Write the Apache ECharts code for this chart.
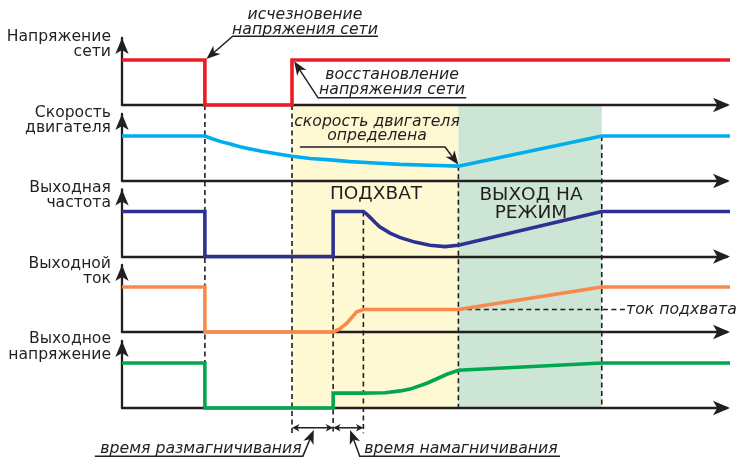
<!DOCTYPE html>
<html><head><meta charset="utf-8">
<script src="https://cdn.jsdelivr.net/npm/echarts@6/dist/echarts.min.js"></script>
<style>html,body{margin:0;padding:0;background:#fff}#c{width:740px;height:458px}</style>
</head><body><div id="c"></div>
<script>
// ---------------- data ----------------
const signalNames = ['Напряжение\nсети', 'Скорость\nдвигателя', 'Выходная\nчастота', 'Выходной\nток', 'Выходное\nнапряжение'];
// loss of mains, mains restored, magnetizing start, magnetizing end, speed found, ramp finished
const eventTimes = [13.7, 28.1, 34.9, 39.9, 55.6, 79.3];
const mainsVoltage = [[0,1],[13.7,1],[13.7,0],[28.1,0],[28.1,1],[101.3,1]];
const motorSpeed = [[0,1],[13.7,1],[14.9,0.94],[16.2,0.88],[17.9,0.82],[19.5,0.76],[21.2,0.71],[23.1,0.66],[25.3,0.61],[28.1,0.55],[31.1,0.50],[34.4,0.47],[37.7,0.43],[41.8,0.40],[46.0,0.37],[50.9,0.35],[55.6,0.33],[79.3,1],[101.3,1]];
const outputFrequency = [[0,1],[13.7,1],[13.7,0],[34.9,0],[34.9,1],[39.9,1],[40.4,0.95],[41.0,0.87],[41.8,0.76],[42.6,0.66],[44.3,0.52],[46.0,0.42],[48.4,0.32],[50.9,0.25],[53.4,0.22],[55.6,0.25],[79.3,1],[101.3,1]];
const outputCurrent = [[0,1],[13.7,1],[13.7,0],[34.9,0],[36.0,0.07],[37.2,0.2],[38.8,0.45],[39.9,0.5],[55.6,0.5],[79.3,1],[101.3,1]];
const outputVoltage = [[0,1],[13.7,1],[13.7,0],[34.9,0],[34.9,0.33],[39.3,0.33],[43.5,0.34],[46.0,0.38],[47.6,0.42],[50.4,0.55],[53.7,0.75],[55.6,0.84],[79.3,1],[101.3,1]];
const captureCurrentLevel = 0.5;
const signals = [mainsVoltage, motorSpeed, outputFrequency, outputCurrent, outputVoltage];
const signalColors = ['#ED1C24', '#00AEEF', '#2E3192', '#F7894A', '#00A651'];

// ---------------- layout ----------------
const W = 740, H = 458;
const AX_LEFT = 122, AX_W = 605, T_MAX = 100;
const BASE = [105, 181, 256.5, 332, 408];
const UNIT = 45;          // px per signal level unit
const PANEL_H = 67;
const INK = '#231F20';
const lv = (k, l) => (BASE[4] - BASE[k]) / UNIT + l;   // overlay y value for panel k at level l

const [tLoss, tRest, tM0, tM1, tFound, tDone] = eventTimes;
const shaded = [
  { from: [tRest, lv(0, 0)], to: [tFound, lv(4, 0)], color: '#FFF9D3' },
  { from: [tFound, lv(0, 0)], to: [tDone, lv(4, 0)], color: '#CCE5D4' }
];
const dashed = [
  [[tLoss, lv(0, 0)], [tLoss, lv(4, 1)]],
  [[tRest, lv(0, 0)], [tRest, lv(4, -0.56)]],
  [[tM0, lv(2, 0)], [tM0, lv(4, -0.56)]],
  [[tM1, lv(2, 1)], [tM1, lv(4, -0.56)]],
  [[tFound, lv(1, 0.34)], [tFound, lv(4, 0)]],
  [[tDone, lv(1, 1)], [tDone, lv(4, 0)]],
  [[tFound, lv(3, captureCurrentLevel)], [83.3, lv(3, captureCurrentLevel)]]
];
const spans = [[tRest, tM0], [tM0, tM1]];
const spanLevel = lv(4, -0.44);
const leaders = [
  [[42.3, lv(0, 1.53)], [18.3, lv(0, 1.53)], [tLoss + 0.25, lv(0, 1.02)]],
  [[56.9, lv(0, 0.16)], [32.4, lv(0, 0.16)], [tRest + 0.35, lv(0, 0.97)]],
  [[29.4, lv(1, 0.756)], [53.4, lv(1, 0.756)], [tFound, lv(1, 0.36)]],
  [[-4.5, lv(4, -1.07)], [29.9, lv(4, -1.07)], [31.7, lv(4, -0.49)]],
  [[72.4, lv(4, -1.07)], [39.3, lv(4, -1.07)], [37.7, lv(4, -0.49)]]
];

function arrowHead(tip, from, L, Wd) {
  const dx = tip[0] - from[0], dy = tip[1] - from[1];
  const len = Math.hypot(dx, dy) || 1;
  const ux = dx / len, uy = dy / len, nx = -uy, ny = ux;
  const bx = tip[0] - ux * L, by = tip[1] - uy * L;
  return [[tip[0], tip[1]], [bx + nx * Wd / 2, by + ny * Wd / 2],
          [tip[0] - ux * L * 0.72, tip[1] - uy * L * 0.72], [bx - nx * Wd / 2, by - ny * Wd / 2]];
}
function shorten(tip, from, d) {
  const dx = tip[0] - from[0], dy = tip[1] - from[1];
  const len = Math.hypot(dx, dy) || 1;
  return [tip[0] - dx / len * d, tip[1] - dy / len * d];
}

const grids = [], xAxes = [], yAxes = [], series = [];
for (let k = 0; k < 5; k++) {
  grids.push({ left: AX_LEFT, width: AX_W, top: BASE[k] - PANEL_H, height: PANEL_H });
  xAxes.push({ gridIndex: k, type: 'value', min: 0, max: T_MAX, z: 3,
    axisLine: { show: true, lineStyle: { color: INK, width: 2.3 }, symbol: ['none', 'arrow'], symbolSize: [11, 17], symbolOffset: [0, 3] },
    axisTick: { show: false }, axisLabel: { show: false }, splitLine: { show: false } });
  yAxes.push({ gridIndex: k, type: 'value', min: 0, max: PANEL_H / UNIT, z: 3,
    axisLine: { show: true, lineStyle: { color: INK, width: 2.3 }, symbol: ['none', 'arrow'], symbolSize: [10, 16] },
    axisTick: { show: false }, axisLabel: { show: false }, splitLine: { show: false } });
  series.push({ type: 'line', xAxisIndex: k, yAxisIndex: k, data: signals[k], name: signalNames[k],
    symbol: 'none', clip: false, z: 6, animation: false,
    lineStyle: { color: signalColors[k], width: 3.6, join: 'miter', cap: 'butt' } });
}
// overlay grid for annotations
grids.push({ left: AX_LEFT, width: AX_W, top: 0, height: H });
xAxes.push({ gridIndex: 5, type: 'value', min: 0, max: T_MAX, show: false });
yAxes.push({ gridIndex: 5, type: 'value', min: (BASE[4] - H) / UNIT, max: BASE[4] / UNIT, show: false });

series.push({ type: 'custom', xAxisIndex: 5, yAxisIndex: 5, z: 1, animation: false, silent: true,
  data: shaded.map((s, i) => [i, 0]),
  renderItem: (params, api) => {
    const s = shaded[params.dataIndex];
    const a = api.coord(s.from), b = api.coord(s.to);
    return { type: 'rect', shape: { x: a[0], y: a[1], width: b[0] - a[0], height: b[1] - a[1] }, style: { fill: s.color } };
  } });
series.push({ type: 'custom', xAxisIndex: 5, yAxisIndex: 5, z: 4, animation: false, silent: true,
  data: dashed.map((s, i) => [i, 0]),
  renderItem: (params, api) => {
    const d = dashed[params.dataIndex];
    const a = api.coord(d[0]), b = api.coord(d[1]);
    return { type: 'line', shape: { x1: a[0], y1: a[1], x2: b[0], y2: b[1] },
      style: { stroke: INK, lineWidth: 1.6, lineDash: [5, 3.5] } };
  } });
series.push({ type: 'custom', xAxisIndex: 5, yAxisIndex: 5, z: 5, animation: false, silent: true,
  data: spans.map((s, i) => [i, 0]),
  renderItem: (params, api) => {
    const s = spans[params.dataIndex];
    const a = api.coord([s[0], spanLevel]), b = api.coord([s[1], spanLevel]);
    return { type: 'group', children: [
      { type: 'line', shape: { x1: a[0] + 2, y1: a[1], x2: b[0] - 2, y2: b[1] }, style: { stroke: INK, lineWidth: 1.5 } },
      { type: 'polygon', shape: { points: arrowHead(a, b, 7.5, 7.5) }, style: { fill: INK } },
      { type: 'polygon', shape: { points: arrowHead(b, a, 7.5, 7.5) }, style: { fill: INK } }
    ] };
  } });
series.push({ type: 'custom', xAxisIndex: 5, yAxisIndex: 5, z: 5, animation: false, silent: true,
  data: leaders.map((s, i) => [i, 0]),
  renderItem: (params, api) => {
    const pts = leaders[params.dataIndex].map(p => api.coord(p));
    const n = pts.length;
    const tip = pts[n - 1], prev = pts[n - 2];
    const linePts = pts.slice(0, n - 1).concat([shorten(tip, prev, 7)]);
    return { type: 'group', children: [
      { type: 'polyline', shape: { points: linePts }, style: { stroke: INK, lineWidth: 1.5, fill: null } },
      { type: 'polygon', shape: { points: arrowHead(tip, prev, 14, 11) }, style: { fill: INK } }
    ] };
  } });

// ---------------- texts ----------------
const FONT = '"DejaVu Sans", Verdana, sans-serif';
function txt(text, x, y, size, align, italic) {
  return { type: 'text', x: x, y: y, z: 100, silent: true,
    style: { text: text, fill: INK, font: (italic ? 'italic ' : '') + size + 'px ' + FONT,
      textAlign: align, textVerticalAlign: 'middle', align: align, verticalAlign: 'middle' } };
}
const labelRows = [[37, 52], [113, 128], [188, 202.5], [263.5, 279], [339, 354.5]];
const graphics = [];
signalNames.forEach((name, k) => {
  const parts = name.split('\n');
  graphics.push(txt(parts[0], 111, labelRows[k][0], 15.6, 'right', false));
  graphics.push(txt(parts[1], 111, labelRows[k][1], 15.6, 'right', false));
});
graphics.push(
  txt('исчезновение', 305, 15, 15.7, 'center', true),
  txt('напряжения сети', 305, 30, 15.7, 'center', true),
  txt('восстановление', 392, 75, 15.7, 'center', true),
  txt('напряжения сети', 392, 90, 15.7, 'center', true),
  txt('скорость двигателя', 377, 121.5, 15.7, 'center', true),
  txt('определена', 377, 135.5, 15.7, 'center', true),
  txt('ток подхвата', 626, 310, 15.7, 'left', true),
  txt('время размагничивания', 201, 449, 15.7, 'center', true),
  txt('время намагничивания', 461, 449, 15.7, 'center', true),
  txt('ПОДХВАТ', 376, 194, 18.5, 'center', false),
  txt('ВЫХОД НА', 531, 195, 18.5, 'center', false),
  txt('РЕЖИМ', 531, 213, 18.5, 'center', false)
);

const chart = echarts.init(document.getElementById('c'), null, { renderer: 'canvas' });
chart.setOption({
  animation: false,
  backgroundColor: '#ffffff',
  grid: grids, xAxis: xAxes, yAxis: yAxes, series: series,
  graphic: { elements: graphics }
});
</script></body></html>
